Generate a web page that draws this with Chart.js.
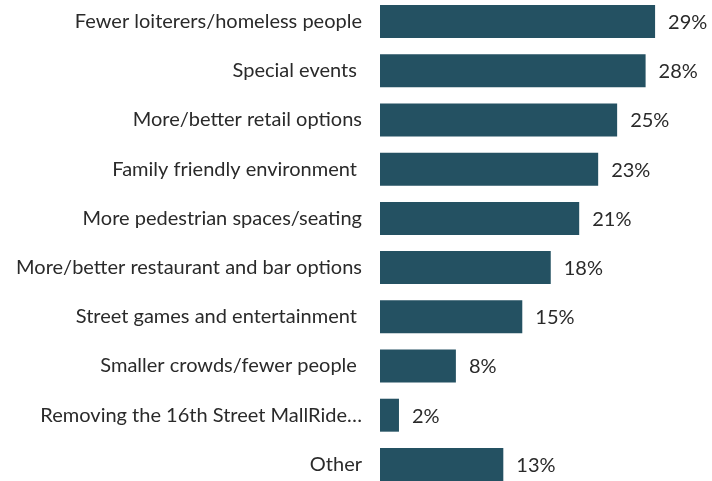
<!DOCTYPE html>
<html>
<head>
<meta charset="utf-8">
<script src="https://cdn.jsdelivr.net/npm/chart.js@4/dist/chart.umd.min.js"></script>
<style>
  html, body { margin: 0; padding: 0; background: #fff; overflow: hidden; }
  #wrap { position: absolute; left: 0; top: -3px; width: 712px; height: 492px; }
</style>
</head>
<body>
<div id="wrap"><canvas id="graphique" width="712" height="492"></canvas></div>
<script>
// answers, in survey order
var categories = [
  "Fewer loiterers/homeless people",
  "Special events ",
  "More/better retail options",
  "Family friendly environment ",
  "More pedestrian spaces/seating",
  "More/better restaurant and bar options",
  "Street games and entertainment ",
  "Smaller crowds/fewer people ",
  "Removing the 16th Street MallRide\u2026",
  "Other"
];
var percents = [29, 28, 25, 23, 21, 18, 15, 8, 2, 13];

var barColor = "#245162";
var textColor = "#2a2a2a";
var labelFont = { family: "Lato, 'Liberation Sans', sans-serif", size: 20 };

// value labels to the right of each bar
var valueLabels = {
  id: "valueLabels",
  afterDatasetsDraw: function (chart) {
    var ctx = chart.ctx;
    var meta = chart.getDatasetMeta(0);
    ctx.save();
    ctx.font = labelFont.size + "px " + labelFont.family;
    ctx.fillStyle = textColor;
    ctx.textAlign = "left";
    ctx.textBaseline = "middle";
    meta.data.forEach(function (bar, i) {
      ctx.fillText(percents[i] + "%", bar.x + 13, bar.y + 1);
    });
    ctx.restore();
  }
};

new Chart(document.getElementById("graphique"), {
  type: "bar",
  data: {
    labels: categories,
    datasets: [
      {
        data: percents,
        backgroundColor: barColor,
        borderWidth: 0,
        categoryPercentage: 1,
        barPercentage: 0.67
      }
    ]
  },
  options: {
    indexAxis: "y",
    responsive: false,
    animation: false,
    devicePixelRatio: 1,
    layout: { padding: 0 },
    plugins: {
      legend: { display: false },
      tooltip: { enabled: false }
    },
    scales: {
      x: {
        display: false,
        min: 0,
        max: 35
      },
      y: {
        grid: { display: false, drawTicks: false },
        border: { display: false },
        ticks: {
          color: textColor,
          font: labelFont,
          padding: 18,
          autoSkip: false
        },
        afterFit: function (scale) {
          scale.width = 380;
          scale.paddingTop = 0;
          scale.paddingBottom = 0;
        }
      }
    }
  },
  plugins: [valueLabels]
});
</script>
</body>
</html>
